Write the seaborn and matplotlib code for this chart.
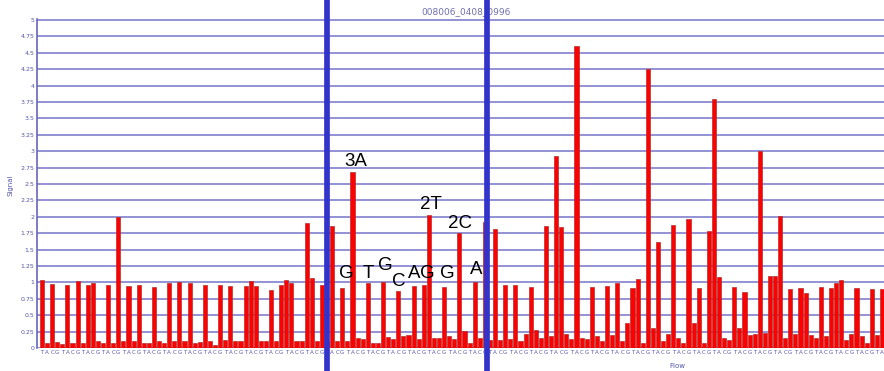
import matplotlib
matplotlib.use("Agg")
import matplotlib.pyplot as plt
from matplotlib.lines import Line2D
import seaborn as sns
import pandas as pd
import numpy as np

# ---- data ----
flow_order = ["T", "A", "C", "G"]
signal = [
    1.03, 0.08, 0.97, 0.09, 0.06, 0.96, 0.08, 1.02, 0.07, 0.96,
    0.99, 0.11, 0.08, 0.96, 0.08, 2.00, 0.11, 0.94, 0.11, 0.96,
    0.07, 0.07, 0.93, 0.11, 0.07, 0.99, 0.11, 1.00, 0.11, 0.99,
    0.07, 0.09, 0.96, 0.10, 0.05, 0.96, 0.12, 0.94, 0.10, 0.10,
    0.94, 1.02, 0.95, 0.10, 0.11, 0.89, 0.10, 0.96, 1.03, 0.99,
    0.10, 0.11, 1.90, 1.07, 0.11, 0.96, 0.10, 1.86, 0.11, 0.92,
    0.11, 2.68, 0.15, 0.14, 0.99, 0.08, 0.08, 1.00, 0.17, 0.13,
    0.87, 0.19, 0.20, 0.95, 0.14, 0.96, 2.03, 0.15, 0.16, 0.93,
    0.19, 0.13, 1.76, 0.26, 0.07, 1.01, 0.16, 1.92, 0.12, 1.82,
    0.12, 0.96, 0.14, 0.96, 0.10, 0.22, 0.93, 0.28, 0.16, 1.86,
    0.18, 2.92, 1.85, 0.22, 0.13, 4.60, 0.16, 0.14, 0.93, 0.18,
    0.10, 0.95, 0.20, 0.99, 0.10, 0.38, 0.92, 1.05, 0.07, 4.25,
    0.30, 1.62, 0.11, 0.21, 1.87, 0.16, 0.07, 1.96, 0.38, 0.92,
    0.08, 1.79, 3.80, 1.08, 0.15, 0.12, 0.93, 0.31, 0.86, 0.20,
    0.22, 3.00, 0.23, 1.09, 1.10, 2.01, 0.16, 0.90, 0.22, 0.92,
    0.84, 0.20, 0.16, 0.93, 0.18, 0.92, 0.99, 1.03, 0.12, 0.22,
    0.91, 0.18, 0.08, 0.90, 0.20, 0.90,
]
flows = [flow_order[i % 4] for i in range(len(signal))]
yticks = [0, 0.25, 0.5, 0.75, 1, 1.25, 1.5, 1.75, 2, 2.25, 2.5, 2.75,
          3, 3.25, 3.5, 3.75, 4, 4.25, 4.5, 4.75, 5]
ytick_labels = ["0", "0.25", "0.5", "0.75", "1", "1.25", "1.5", "1.75", "2",
                "2.25", "2.5", "2.75", "3", "3.25", "3.5", "3.75", "4",
                "4.25", "4.5", "4.75", "5"]
title = "008006_0408_0996"

# annotations: text, flow index, signal level
ann_text = ["3A", "G", "T", "G", "C", "A", "G", "G", "2T", "2C", "A"]
ann_flow = [61.6, 59.8, 64.05, 67.5, 70.1, 73.2, 75.7, 79.6, 76.4, 82.2, 85.2]
ann_level = [2.84, 1.136, 1.136, 1.25, 1.02, 1.136, 1.136, 1.136, 2.18, 1.905, 1.19]

df = pd.DataFrame({"idx": np.arange(len(signal)), "signal": signal})

sns.set_style("white")
plt.rcParams["font.family"] = ["DejaVu Sans"]

W, H = 884, 371
fig = plt.figure(figsize=(W / 100, H / 100), dpi=100)
ax = fig.add_axes([37 / W, (H - 348) / H, 847 / W, 329 / H])

grid_col = "#8a8ad2"
for yv in yticks:
    ax.axhline(yv, color=grid_col, lw=1.3, zorder=0)

sns.barplot(data=df, x="idx", y="signal", color="#ff0000", saturation=1,
            width=0.8, edgecolor="#b03030", linewidth=0.5, ax=ax, zorder=2)

ax.set_xlim(-0.98, 165.4)
ax.set_ylim(0, 5.015)
ax.set_yticks(yticks)
ax.set_yticklabels(ytick_labels, fontsize=4.5, color="#5555aa")
ax.set_xticks(np.arange(len(signal)))
ax.set_xticklabels(flows, fontsize=4, color="#5555aa")
ax.tick_params(axis="both", length=0, pad=2)
ax.tick_params(axis="x", pad=1.5)
ax.set_xlabel("")
ax.set_ylabel("")
for s in ["top", "right", "bottom"]:
    ax.spines[s].set_visible(False)
ax.spines["left"].set_color("#6666bb")
ax.spines["left"].set_linewidth(1.2)

for t, fx, lv in zip(ann_text, ann_flow, ann_level):
    ax.text(fx, lv, t, ha="center", va="center", fontsize=13.5,
            family="Liberation Sans", color="black", zorder=5)

fig.text(466 / W, 1 - 12 / H, title, ha="center", va="center",
         fontsize=6.5, color="#7070b0")
fig.text(677 / W, 1 - 366 / H, "Flow", ha="center", va="center",
         fontsize=5, color="#5555aa")
fig.text(11 / W, 1 - 185 / H, "Signal", ha="center", va="center",
         fontsize=5, color="#5555aa", rotation=90)

for xp in [327, 487]:
    fig.add_artist(Line2D([xp / W, xp / W], [0, 1], transform=fig.transFigure,
                          color="#3333cc", lw=4.1, zorder=10))

fig.savefig("out.png", dpi=100)
